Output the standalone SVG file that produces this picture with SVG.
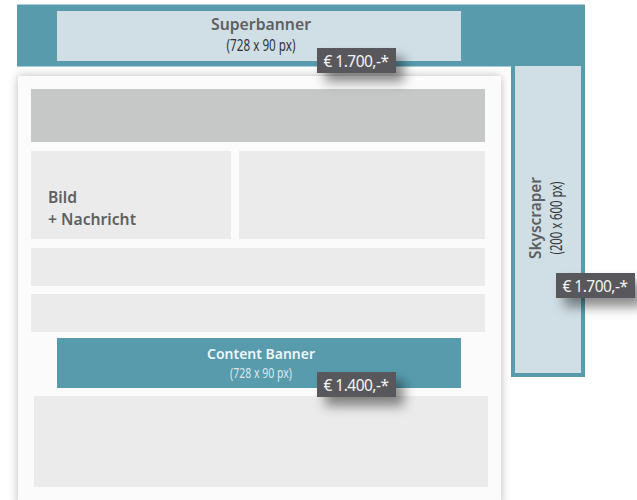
<svg xmlns="http://www.w3.org/2000/svg" width="637" height="500" viewBox="0 0 637 500">
<style>
text{font-family:"Noto Sans","Open Sans","Liberation Sans",sans-serif}
.teal{fill:#579bad}.pale{fill:#d0dfe6}.block{fill:#ebebeb}
.title{font-size:16.5px;font-weight:600;fill:#5f5f61;text-anchor:middle}
.sub{font-size:16px;fill:#333337;text-anchor:middle}
.price rect{fill:#58585c;filter:url(#ds)}
.price text{font-size:15.500px;fill:#f4f4f4}
</style>
<defs>
<filter id="ds" x="-40%" y="-80%" width="190%" height="320%"><feDropShadow dx="8" dy="9" stdDeviation="6" flood-color="#000" flood-opacity=".45"/></filter>
<filter id="ps" x="-5%" y="-5%" width="110%" height="110%"><feDropShadow dx="0" dy="0" stdDeviation="5" flood-color="#000" flood-opacity=".28"/></filter>
</defs>
<rect width="637" height="500" fill="#fff"/>
<g id="superbanner-frame">
<rect class="teal" x="17" y="4.5" width="568" height="62"/>
<rect x="17" y="4" width="568" height="1" fill="#a9ccd5"/>
<rect x="17" y="66" width="494" height="1" fill="#a9ccd5"/>
<rect x="17" y="67" width="494" height="433" fill="#fff"/>
</g>
<g id="skyscraper">
<rect class="teal" x="511" y="66" width="74" height="311"/>
<rect class="pale" x="515" y="66" width="66" height="307"/>
<text class="title" transform="translate(541 218) rotate(-90)" textLength="82" lengthAdjust="spacingAndGlyphs">Skyscraper</text>
<text class="sub" transform="translate(562 218) rotate(-90)" textLength="73" lengthAdjust="spacingAndGlyphs">(200 x 600 px)</text>
</g>
<g id="page">
<rect x="18" y="76" width="483" height="430" fill="#fbfbfb" filter="url(#ps)"/>
</g>
<g id="superbanner">
<rect class="pale" x="57" y="11" width="404" height="50"/>
<text class="title" x="261" y="30" textLength="100" lengthAdjust="spacingAndGlyphs">Superbanner</text>
<text class="sub" x="261" y="51" textLength="69" lengthAdjust="spacingAndGlyphs">(728 x 90 px)</text>
</g>
<g id="header-block"><rect x="31" y="89" width="454" height="53" fill="#c6c8c7"/></g>
<g id="bild-nachricht">
<rect class="block" x="31" y="151" width="200" height="88"/>
<text x="48" y="203" font-size="16.500" font-weight="600" fill="#5f5f61" textLength="29" lengthAdjust="spacingAndGlyphs">Bild</text>
<text x="48" y="225" font-size="16.500" font-weight="600" fill="#5f5f61" textLength="88" lengthAdjust="spacingAndGlyphs">+ Nachricht</text>
</g>
<g id="block-right"><rect class="block" x="239" y="151" width="246" height="88"/></g>
<g id="row-1"><rect class="block" x="31" y="248" width="454" height="38"/></g>
<g id="row-2"><rect class="block" x="31" y="294" width="454" height="38"/></g>
<g id="content-banner">
<rect class="teal" x="57" y="338" width="404" height="50"/>
<text x="261" y="359" font-size="14.500" font-weight="600" fill="#f0f6f8" text-anchor="middle" textLength="108" lengthAdjust="spacingAndGlyphs">Content Banner</text>
<text x="261" y="377.500" font-size="13.500" fill="#dbe8ec" text-anchor="middle" textLength="62" lengthAdjust="spacingAndGlyphs">(728 x 90 px)</text>
</g>
<g id="bottom-block"><rect class="block" x="34" y="396" width="454" height="91"/></g>
<g id="price-superbanner" class="price"><rect x="317" y="48" width="79" height="25"/><text x="323.500" y="66.500" textLength="65.500">€ 1.700,-*</text></g>
<g id="price-skyscraper" class="price"><rect x="556" y="273" width="79" height="25"/><text x="562.500" y="291.500" textLength="65.500">€ 1.700,-*</text></g>
<g id="price-content" class="price"><rect x="317" y="372" width="79" height="25"/><text x="323.500" y="390.500" textLength="65.500">€ 1.400,-*</text></g>
<g id="connectors"/>
</svg>
